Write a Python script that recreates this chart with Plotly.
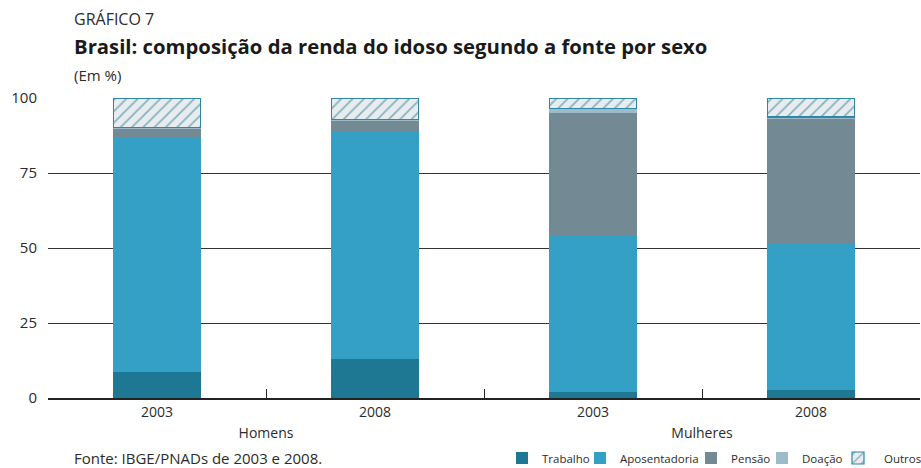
import plotly.graph_objects as go

# Data
grupos = ["Homens", "Homens", "Mulheres", "Mulheres"]
anos = ["2003", "2008", "2003", "2008"]
trabalho = [8.8, 13.0, 2.1, 2.8]
aposentadoria = [78.1, 75.9, 52.1, 48.6]
pensao = [2.8, 3.5, 40.8, 41.6]
doacao = [0.5, 0.4, 1.4, 0.7]
outros = [9.8, 7.2, 3.6, 6.3]
y_ticks = [0, 25, 50, 75, 100]

FONT = "Open Sans"
TXT = "#2b2b2b"
W, H = 921, 468
L, R, T, B = 48, 1, 98, 70
PW = W - L - R
PH = H - T - B

x = [grupos, anos]
fig = go.Figure()
series = [
    ("Trabalho", trabalho, "#1f7893", "legend"),
    ("Aposentadoria", aposentadoria, "#35a0c5", "legend2"),
    ("Pensão", pensao, "#738a94", "legend3"),
    ("Doação", doacao, "#9ebbc9", "legend4"),
]
for name, vals, col, lg in series:
    fig.add_trace(go.Bar(x=x, y=vals, name=name, legend=lg,
                         marker=dict(color=col, line=dict(width=0))))
fig.add_trace(go.Bar(
    x=x, y=outros, name="\u00a0\u00a0Outros", legend="legend5",
    marker=dict(color="#e8ecee",
                line=dict(color="#2f87a4", width=1.2),
                pattern=dict(shape="/", fgcolor="#1f7893", bgcolor="#e8ecee", size=8, solidity=0.22)),
))

def px_x(p):
    return (p - L) / PW

def px_y(p):
    return (H - B - p) / PH

# swatch left edge target minus plotly's internal offset (~15 px)
legend_px = {"legend": 517, "legend2": 595, "legend3": 706, "legend4": 777, "legend5": 853}
legend_cfg = {}
for k, p in legend_px.items():
    legend_cfg[k] = dict(orientation="h", x=px_x(p - 15), xanchor="left", y=px_y(458), yanchor="middle",
                         font=dict(size=11.5, color=TXT), bgcolor="rgba(0,0,0,0)", itemwidth=30)

fig.update_layout(
    width=W, height=H,
    barmode="stack", bargap=0.6,
    plot_bgcolor="white", paper_bgcolor="white",
    margin=dict(l=L, r=R, t=T, b=B, autoexpand=False),
    font=dict(family=FONT, size=14, color=TXT),
    showlegend=True,
    **legend_cfg,
)
fig.update_xaxes(
    type="multicategory", showline=True, linecolor="#222", linewidth=1.5,
    ticks="inside", ticklen=9, tickcolor="#222", tickwidth=1.3,
    showdividers=False, tickfont=dict(size=14, color=TXT), showgrid=False, automargin=False,
)
fig.update_yaxes(
    range=[0, 100], tickvals=y_ticks, showgrid=True, gridcolor="#333", gridwidth=1.3,
    zeroline=False, showline=False, ticks="", ticklabelstandoff=10, automargin=False,
    tickfont=dict(size=15, color=TXT),
)

ann = [
    ("GRÁFICO 7", 72, 19, 16, TXT),
    ("<b>Brasil: composição da renda do idoso segundo a fonte por sexo</b>", 72, 46, 20.3, "#1a1a1a"),
    ("(Em %)", 72, 75, 15, TXT),
    ("Fonte: IBGE/PNADs de 2003 e 2008.", 72, 458, 15, TXT),
]
for text, ax, ay, size, col in ann:
    fig.add_annotation(text=text, xref="paper", yref="paper",
                       x=px_x(ax), y=px_y(ay),
                       xanchor="left", yanchor="middle", showarrow=False,
                       font=dict(size=size, color=col))

fig.write_html("out.html", config={"displayModeBar": False},
               post_script="document.body.style.margin='0';")
